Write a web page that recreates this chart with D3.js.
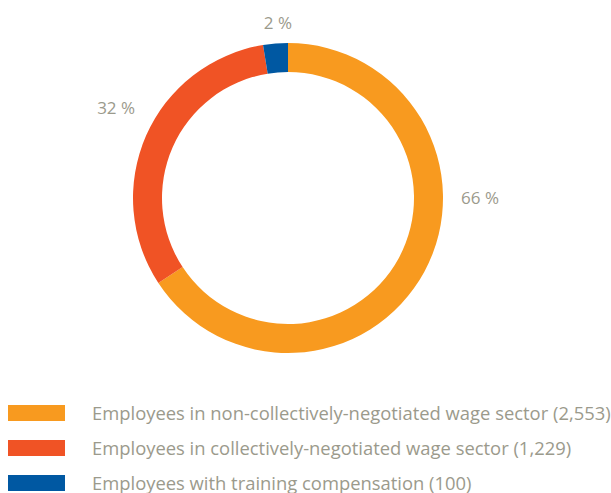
<!DOCTYPE html>
<html>
<head>
<meta charset="utf-8">
<script src="https://cdn.jsdelivr.net/npm/d3@7"></script>
<style>
  body { margin: 0; background: #fff; }
  text { font-family: "Open Sans", sans-serif; fill: #9b9a8c; }
</style>
</head>
<body>
<div id="chart"></div>
<script>
    const categories = ["Employees in non-collectively-negotiated wage sector", "Employees in collectively-negotiated wage sector", "Employees with training compensation"];
    const counts = [2553, 1229, 100];
    const pctLabels = ["66 %", "32 %", "2 %"];
    const colors = ["#f89a1f", "#f05325", "#0058a2"];

    const width = 611;
    const height = 493;
    const cx = 288, cy = 198;
    const outerR = 155, innerR = 126;

    const viz = d3.select("#chart")
        .append("svg")
        .attr("width", width)
        .attr("height", height);

    const data = categories.map(function(c, i) {
        return {name: c, value: counts[i], label: pctLabels[i], color: colors[i]};
    });

    const pie = d3.pie()
        .sort(null)
        .value(function(d) { return d.value; });

    const arc = d3.arc()
        .innerRadius(innerR)
        .outerRadius(outerR);

    const g = viz.append("g")
        .attr("transform", `translate(${cx},${cy})`);

    const arcs = pie(data);

    g.selectAll("path")
        .data(arcs)
        .enter()
        .append("path")
            .attr("d", arc)
            .attr("fill", function(d) { return d.data.color; });

    // Percent labels, placed around the ring (angle in degrees, radius)
    const labelPos = [[90, 192], [-62.4, 194], [-3.3, 175]];

    g.selectAll(".pct")
        .data(arcs)
        .enter()
        .append("text")
            .attr("class", "pct")
            .attr("x", function(d, i) { return Math.sin(labelPos[i][0] * Math.PI / 180) * labelPos[i][1]; })
            .attr("y", function(d, i) { return -Math.cos(labelPos[i][0] * Math.PI / 180) * labelPos[i][1]; })
            .attr("text-anchor", "middle")
            .attr("dy", "0.35em")
            .style("font-size", "17px")
            .text(function(d) { return d.data.label; });

    // Legend
    const legend = viz.append("g");
    const rowY = [405, 440, 475];

    const rows = legend.selectAll("g")
        .data(data)
        .enter()
        .append("g")
            .attr("transform", function(d, i) { return `translate(0,${rowY[i]})`; });

    rows.append("rect")
        .attr("x", 8)
        .attr("y", 0)
        .attr("width", 57)
        .attr("height", 16)
        .attr("fill", function(d) { return d.color; });

    rows.append("text")
        .attr("x", 92)
        .attr("y", 15)
        .style("font-size", "18.4px")
        .text(function(d) { return `${d.name} (${d3.format(",")(d.value)})`; });
</script>
</body>
</html>
